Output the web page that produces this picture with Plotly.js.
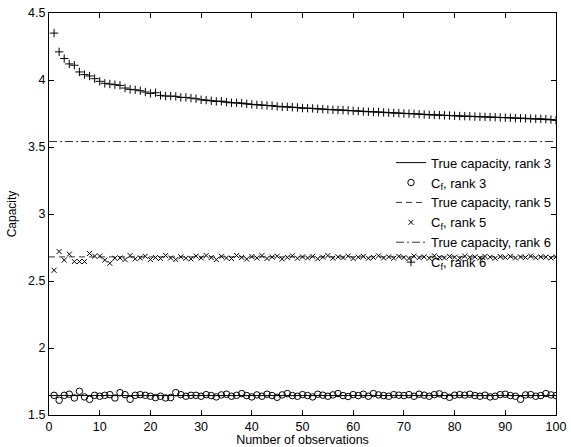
<!DOCTYPE html>
<html>
<head>
<meta charset="utf-8">
<script src="https://cdn.plot.ly/plotly-3.0.1.min.js"></script>
<style>html,body{margin:0;padding:0;background:#fff;}#chart{width:571px;height:447px;}</style>
</head>
<body>
<div id="chart"></div>
<script>
// observations 1..100
const obs = Array.from({length: 100}, (_, i) => i + 1);

// C_f, rank 6 (plus markers)
const cfRank6 = [4.35,4.21,4.16,4.12,4.11,4.06,4.04,4.03,4.01,3.99,
 3.975,3.97,3.965,3.96,3.94,3.93,3.927,3.92,3.91,3.90,
 3.905,3.885,3.88,3.88,3.878,3.87,3.87,3.865,3.86,3.852,
 3.85,3.845,3.84,3.842,3.835,3.83,3.83,3.828,3.822,3.818,
 3.815,3.813,3.81,3.808,3.803,3.80,3.80,3.797,3.795,3.79,
 3.79,3.788,3.785,3.783,3.78,3.778,3.776,3.775,3.772,3.77,
 3.768,3.765,3.763,3.762,3.76,3.758,3.756,3.754,3.752,3.75,
 3.749,3.747,3.745,3.743,3.74,3.739,3.738,3.736,3.735,3.733,
 3.731,3.73,3.729,3.727,3.726,3.725,3.723,3.722,3.72,3.719,
 3.718,3.716,3.715,3.714,3.712,3.711,3.71,3.708,3.705,3.70];

// C_f, rank 5 (x markers)
const cfRank5 = [2.58,2.72,2.656,2.70,2.645,2.645,2.645,2.705,2.686,2.686,
 2.656,2.632,2.67,2.672,2.66,2.69,2.665,2.672,2.685,2.66,
 2.675,2.668,2.69,2.672,2.66,2.68,2.67,2.665,2.686,2.672,
 2.69,2.675,2.66,2.685,2.672,2.668,2.69,2.676,2.664,2.682,
 2.672,2.69,2.668,2.678,2.685,2.664,2.676,2.688,2.67,2.68,
 2.672,2.684,2.666,2.678,2.69,2.67,2.68,2.674,2.686,2.668,
 2.678,2.684,2.67,2.676,2.688,2.672,2.68,2.67,2.684,2.676,
 2.668,2.686,2.674,2.68,2.67,2.688,2.676,2.672,2.684,2.678,
 2.67,2.686,2.676,2.68,2.672,2.684,2.678,2.67,2.682,2.676,
 2.684,2.672,2.68,2.676,2.686,2.674,2.68,2.678,2.672,2.68];

// C_f, rank 3 (circle markers)
const cfRank3 = [1.647,1.61,1.647,1.655,1.627,1.677,1.635,1.617,1.647,1.64,
 1.647,1.652,1.627,1.667,1.652,1.617,1.647,1.652,1.647,1.64,
 1.63,1.64,1.627,1.63,1.667,1.652,1.64,1.647,1.647,1.64,
 1.652,1.645,1.635,1.65,1.655,1.64,1.647,1.66,1.645,1.635,
 1.65,1.64,1.655,1.645,1.632,1.65,1.66,1.645,1.64,1.652,
 1.645,1.635,1.655,1.648,1.64,1.65,1.66,1.645,1.638,1.652,
 1.645,1.655,1.64,1.66,1.65,1.645,1.64,1.652,1.648,1.645,
 1.652,1.64,1.655,1.648,1.64,1.652,1.658,1.645,1.632,1.648,
 1.652,1.648,1.655,1.645,1.64,1.648,1.635,1.64,1.652,1.655,
 1.645,1.64,1.617,1.65,1.652,1.64,1.645,1.66,1.65,1.645];

// true capacities (constant lines)
const trueRank3 = 1.645;
const trueRank5 = 2.68;
const trueRank6 = 3.541;

// solid curve running through the rank-6 estimates
const curveX = [30,40,50,60,70,80,90,100];
const curveY = [3.852,3.818,3.79,3.77,3.75,3.733,3.719,3.70];

const xEnds = [0, 100];
const blk = '#000';

const traces = [
  {x: xEnds, y: xEnds.map(() => trueRank3), mode: 'lines', name: 'True capacity, rank 3',
   line: {color: blk, width: 1, dash: 'solid'}},
  {x: obs, y: cfRank3, mode: 'markers', name: 'C<sub>f</sub>, rank 3',
   marker: {symbol: 'circle-open', size: 6.5, color: blk, line: {width: 1, color: blk}}},
  {x: xEnds, y: xEnds.map(() => trueRank5), mode: 'lines', name: 'True capacity, rank 5',
   line: {color: '#333', width: 1, dash: '6px,4px'}},
  {x: obs, y: cfRank5, mode: 'markers', name: 'C<sub>f</sub>, rank 5',
   marker: {symbol: 'x-thin-open', size: 5, color: blk, line: {width: 1, color: blk}}},
  {x: xEnds, y: xEnds.map(() => trueRank6), mode: 'lines', name: 'True capacity, rank 6',
   line: {color: '#333', width: 1, dash: '8px,3px,2px,3px'}},
  {x: obs, y: cfRank6, mode: 'markers', name: 'C<sub>f</sub>, rank 6',
   marker: {symbol: 'cross-thin-open', size: 6, color: blk, line: {width: 1, color: blk}}},
  {x: curveX, y: curveY, mode: 'lines', showlegend: false, hoverinfo: 'skip',
   line: {color: blk, width: 1}}
];

const axisCommon = {
  showgrid: false, zeroline: false, showline: true, mirror: 'ticks',
  linecolor: blk, linewidth: 1, ticks: 'inside', ticklen: 5, tickcolor: blk,
  tickfont: {family: 'Liberation Sans, Arial, sans-serif', size: 12.5, color: blk}
};

const layout = {
  width: 571, height: 447,
  margin: {l: 49, r: 15, t: 13, b: 32},
  paper_bgcolor: '#fff', plot_bgcolor: '#fff',
  font: {family: 'Liberation Sans, Arial, sans-serif', size: 12, color: blk},
  xaxis: Object.assign({}, axisCommon, {
    range: [0, 100], tickvals: [0,10,20,30,40,50,60,70,80,90,100],
    title: {text: 'Number of observations', standoff: 10, font: {size: 12.5}}
  }),
  yaxis: Object.assign({}, axisCommon, {
    range: [1.5, 4.5], tickvals: [1.5,2,2.5,3,3.5,4,4.5], ticktext: ['1.5','2','2.5','3','3.5','4','4.5'],
    title: {text: 'Capacity', standoff: 8, font: {size: 12}}
  }),
  showlegend: true,
  legend: {x: 1.0, xanchor: 'right', y: 0.665, yanchor: 'top', bgcolor: 'rgba(0,0,0,0)',
    borderwidth: 0, font: {size: 13, color: blk}, tracegroupgap: 0}
};

Plotly.newPlot('chart', traces, layout, {displayModeBar: false, staticPlot: true});
</script>
</body>
</html>
